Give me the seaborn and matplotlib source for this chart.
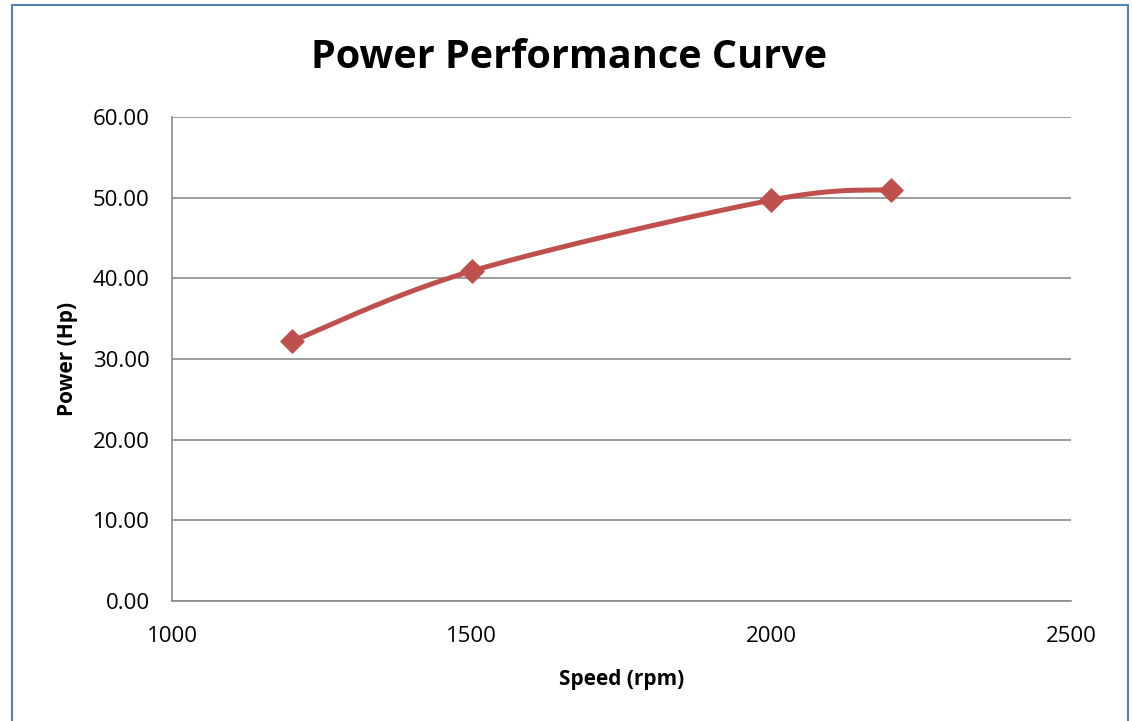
import numpy as np
import pandas as pd
import matplotlib
matplotlib.use('Agg')
import matplotlib.pyplot as plt
from matplotlib.patches import Rectangle
import seaborn as sns

# dados
speed_rpm = [1200, 1500, 2000, 2200]
power_hp = [32.2, 40.9, 49.7, 51.0]
y_ticks = [0, 10, 20, 30, 40, 50, 60]
x_ticks = [1000, 1500, 2000, 2500]

line_color = '#C0504D'
grid_color = '#8C8C8C'

sns.set_theme(style='white')
plt.rcParams['font.family'] = ['Open Sans', 'DejaVu Sans']
plt.rcParams['text.color'] = 'black'
plt.rcParams['axes.labelcolor'] = 'black'
plt.rcParams['xtick.color'] = 'black'
plt.rcParams['ytick.color'] = 'black'


def smooth_curve(x, y, n=60):
    # curva suavizada tipo Excel (bezier catmull-rom)
    x = np.asarray(x, float)
    y = np.asarray(y, float)
    px, py = [], []
    for i in range(len(x) - 1):
        x0, y0 = (x[i - 1], y[i - 1]) if i > 0 else (x[i], y[i])
        x3, y3 = (x[i + 2], y[i + 2]) if i + 2 < len(x) else (x[i + 1], y[i + 1])
        c1x = x[i] + (x[i + 1] - x0) / 6
        c1y = y[i] + (y[i + 1] - y0) / 6
        c2x = x[i + 1] - (x3 - x[i]) / 6
        c2y = y[i + 1] - (y3 - y[i]) / 6
        t = np.linspace(0, 1, n)
        bx = (1 - t) ** 3 * x[i] + 3 * (1 - t) ** 2 * t * c1x + 3 * (1 - t) * t ** 2 * c2x + t ** 3 * x[i + 1]
        by = (1 - t) ** 3 * y[i] + 3 * (1 - t) ** 2 * t * c1y + 3 * (1 - t) * t ** 2 * c2y + t ** 3 * y[i + 1]
        px.extend(bx)
        py.extend(by)
    return pd.DataFrame({'speed': px, 'power': py})


curve = smooth_curve(speed_rpm, power_hp)
points = pd.DataFrame({'speed': speed_rpm, 'power': power_hp})

fig = plt.figure(figsize=(11.32, 7.21), dpi=100)
ax = fig.add_axes([172 / 1132, 1 - 601 / 721, (1071 - 172) / 1132, (601 - 117) / 721])

sns.lineplot(data=curve, x='speed', y='power', sort=False, color=line_color,
             linewidth=3.6, ax=ax, zorder=3)
sns.scatterplot(data=points, x='speed', y='power', marker='D', s=140,
                color=line_color, edgecolor=line_color, ax=ax, zorder=4)

ax.set_xlim(1000, 2500)
ax.set_ylim(0, 60)
ax.set_xticks(x_ticks)
ax.set_yticks(y_ticks)
ax.set_yticklabels([f'{v:.2f}' for v in y_ticks], fontsize=16)
ax.set_xticklabels([str(v) for v in x_ticks], fontsize=16)
ax.yaxis.grid(True, color=grid_color, linewidth=1.2)
ax.xaxis.grid(False)
for side in ['top', 'right']:
    ax.spines[side].set_visible(False)
for side in ['left', 'bottom']:
    ax.spines[side].set_color(grid_color)
    ax.spines[side].set_linewidth(1.2)
ax.tick_params(axis='y', length=6, color=grid_color, direction='out', pad=10)
ax.tick_params(axis='x', length=6, color=grid_color, direction='out', pad=12)

ax.set_xlabel('Speed (rpm)', fontsize=15, fontweight='bold', labelpad=16)
ax.set_ylabel('Power (Hp)', fontsize=15, fontweight='bold', labelpad=11)
fig.text(569 / 1132, 1 - 57 / 721, 'Power Performance Curve', fontsize=28.5,
         fontweight='bold', ha='center', va='center')

fig.patches.append(Rectangle((12 / 1132, -0.02), (1128 - 12) / 1132, 1.02 - 5 / 721,
                             transform=fig.transFigure, fill=False,
                             edgecolor='#4F81BD', linewidth=1.5))

fig.savefig('out.png', dpi=100)
